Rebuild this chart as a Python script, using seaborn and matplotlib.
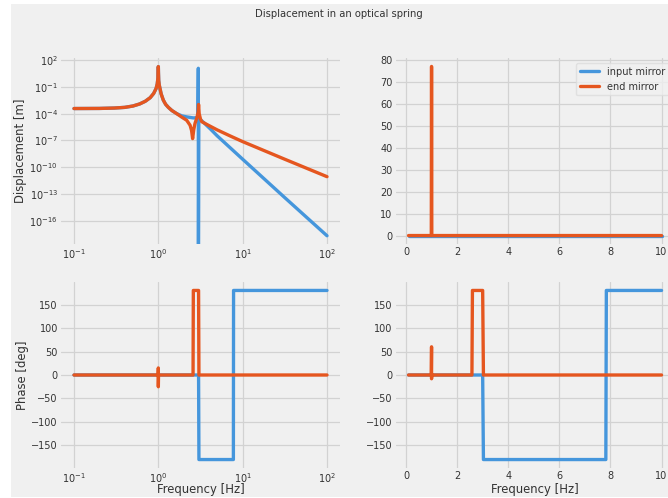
import numpy as np
import pandas as pd
import matplotlib
matplotlib.use("Agg")
import matplotlib.pyplot as plt
from matplotlib.patches import Rectangle
from matplotlib.ticker import NullLocator
import seaborn as sns

labels = ["input mirror", "end mirror"]
colors = {"input mirror": "#4596dc", "end mirror": "#e5561f"}

# displacement vs frequency, log sweep
f_log_end = [0.1, 0.2, 0.3, 0.4, 0.5, 0.6, 0.7, 0.8, 0.88, 0.94,
             0.97, 0.99, 0.997, 1.0, 1.003, 1.01, 1.025, 1.047, 1.08, 1.146,
             1.22, 1.315, 1.45, 1.65, 1.9, 2.17, 2.38, 2.48, 2.55, 2.63,
             2.72, 2.88, 2.965, 3.0, 3.05, 3.16, 3.27, 4.0, 5.0, 7.1,
             10, 31.6, 100]
d_log_end = [3.7e-4, 3.8e-4, 4.2e-4, 5e-4, 7.1e-4, 1.2e-3, 2.4e-3, 6e-3, 1.8e-2, 6.3e-2,
             0.2, 1.0, 5.0, 18, 4.0, 0.5, 0.16, 6.3e-2, 1.6e-2, 3.2e-3,
             1.1e-3, 5e-4, 2.2e-4, 1e-4, 4e-5, 1.8e-5, 5e-6, 1.26e-6, 1.6e-7, 1.6e-6,
             7.9e-6, 4e-5, 1.6e-4, 1.05e-3, 1e-4, 2.5e-5, 1.26e-5, 4.5e-6, 1.5e-6, 3.2e-7,
             7.4e-8, 7.9e-10, 8.9e-12]
f_log_in = [0.1, 0.2, 0.3, 0.4, 0.5, 0.6, 0.7, 0.8, 0.88, 0.94,
            0.97, 0.99, 0.997, 1.0, 1.003, 1.01, 1.025, 1.047, 1.08, 1.146,
            1.22, 1.315, 1.45, 1.65, 1.9, 2.17, 2.6, 2.88, 2.95, 2.98,
            2.985, 3.02, 3.27, 3.63, 4.17, 5.0, 10, 31.6, 100]
d_log_in = [3.7e-4, 3.8e-4, 4.2e-4, 5e-4, 7.1e-4, 1.2e-3, 2.4e-3, 6e-3, 1.8e-2, 6.3e-2,
            0.2, 1.0, 5.0, 18, 4.0, 0.5, 0.16, 6.3e-2, 1.6e-2, 3.2e-3,
            1.1e-3, 5e-4, 2.2e-4, 1e-4, 5.6e-5, 4.3e-5, 3.3e-5, 3.5e-5, 5e-5, 11.7,
            1e-25, 2.5e-5, 1.6e-5, 6.3e-6, 1.8e-6, 3.2e-7, 7.9e-10, 4e-14, 2.2e-18]

# displacement, linear sweep
f_lin_end = [0.1, 0.99, 1.0, 1.01, 10]
d_lin_end = [0, 0, 77, 0, 0]
f_lin_in = [0.1, 10]
d_lin_in = [0, 0]

# phase, log sweep
fp_log_end = [0.1, 0.995, 1.0, 1.0, 1.005, 2.58, 2.6, 3.0, 3.03, 100]
p_log_end = [0, 0, 15, -25, 0, 0, 180, 180, 0, 0]
fp_log_in = [0.1, 3.0, 3.03, 7.76, 7.8, 100]
p_log_in = [0, 0, -180, -180, 180, 180]

# phase, linear sweep
fp_lin_end = [0.1, 0.99, 1.0, 1.0, 1.01, 2.58, 2.6, 3.0, 3.03, 10]
p_lin_end = [0, 0, 60, -8, 0, 0, 180, 180, 0, 0]
fp_lin_in = [0.1, 3.0, 3.03, 7.82, 7.84, 10]
p_lin_in = [0, 0, -180, -180, 180, 180]


def make_df(f_in, v_in, f_end, v_end):
    a = pd.DataFrame({"freq": f_in, "val": v_in, "mirror": labels[0]})
    b = pd.DataFrame({"freq": f_end, "val": v_end, "mirror": labels[1]})
    return pd.concat([a, b], ignore_index=True)


sns.set_theme(style="whitegrid", rc={
    "axes.facecolor": "#f0f0f0", "figure.facecolor": "white",
    "axes.edgecolor": "#f0f0f0", "grid.color": "#d2d2d2", "grid.linewidth": 0.9,
    "xtick.major.size": 0, "ytick.major.size": 0,
    "xtick.minor.size": 0, "ytick.minor.size": 0,
    "xtick.major.pad": 2.5, "ytick.major.pad": 2.5,
    "xtick.labelsize": 7, "ytick.labelsize": 7, "axes.labelsize": 8.4,
    "text.color": "#333333", "axes.labelcolor": "#333333",
    "xtick.color": "#333333", "ytick.color": "#333333",
    "legend.fontsize": 7,
})
plt.rcParams["font.family"] = ["DejaVu Sans"]

W, H = 668, 498
fig = plt.figure(figsize=(W / 100, H / 100), dpi=100)
fig.add_artist(Rectangle((11 / W, 1 / H), 1, 1 - 5 / H, transform=fig.transFigure,
                         facecolor="#f0f0f0", edgecolor="none", zorder=-1))

aw, ah = 278.3 / W, 186 / H
ax_tl = fig.add_axes([61.35 / W, (H - 244) / H, aw, ah])
ax_tr = fig.add_axes([395.9 / W, (H - 244) / H, aw, ah])
ax_bl = fig.add_axes([61.35 / W, (H - 468) / H, aw, ah])
ax_br = fig.add_axes([395.9 / W, (H - 468) / H, aw, ah])

panels = [
    (ax_tl, make_df(f_log_in, d_log_in, f_log_end, d_log_end), False),
    (ax_tr, make_df(f_lin_in, d_lin_in, f_lin_end, d_lin_end), True),
    (ax_bl, make_df(fp_log_in, p_log_in, fp_log_end, p_log_end), False),
    (ax_br, make_df(fp_lin_in, p_lin_in, fp_lin_end, p_lin_end), False),
]
for ax, df, leg in panels:
    sns.lineplot(data=df, x="freq", y="val", hue="mirror", hue_order=labels,
                 palette=colors, estimator=None, sort=False, linewidth=2.4,
                 legend=leg, ax=ax)
    ax.set_xlabel("")
    ax.set_ylabel("")
    for s in ax.spines.values():
        s.set_visible(False)

# log frequency axes
for ax in (ax_tl, ax_bl):
    ax.set_xscale("log")
    ax.set_xlim(10 ** -1.15, 10 ** 2.15)
    ax.set_xticks([0.1, 1, 10, 100])
    ax.xaxis.set_minor_locator(NullLocator())

ax_tl.set_yscale("log")
ax_tl.set_ylim(10 ** -18.58, 10 ** 2.22)
ax_tl.set_yticks([1e2, 1e-1, 1e-4, 1e-7, 1e-10, 1e-13, 1e-16])
ax_tl.yaxis.set_minor_locator(NullLocator())

for ax in (ax_tr, ax_br):
    ax.set_xlim(-0.395, 10.495)
    ax.set_xticks([0, 2, 4, 6, 8, 10])

ax_tr.set_ylim(-3.85, 80.85)
ax_tr.set_yticks(np.arange(0, 81, 10))

for ax in (ax_bl, ax_br):
    ax.set_ylim(-198, 198)
    ax.set_yticks([-150, -100, -50, 0, 50, 100, 150])
    ax.set_xlabel("Frequency [Hz]")
    ax.xaxis.set_label_coords(0.5, -0.082)

ax_tl.set_ylabel("Displacement [m]")
ax_tl.yaxis.set_label_coords(-0.1245, 0.5)
ax_bl.set_ylabel("Phase [deg]")
ax_bl.yaxis.set_label_coords(-0.1173, 0.5)

leg = ax_tr.legend(loc="upper right", frameon=True)
leg.get_frame().set_facecolor("#f0f0f0")
leg.get_frame().set_edgecolor("#dcdcdc")
for line in leg.get_lines():
    line.set_linewidth(2.4)

fig.text(339 / W, 1 - 14 / H, "Displacement in an optical spring",
         ha="center", va="center", fontsize=7.2)

fig.savefig("out.png", dpi=100)
